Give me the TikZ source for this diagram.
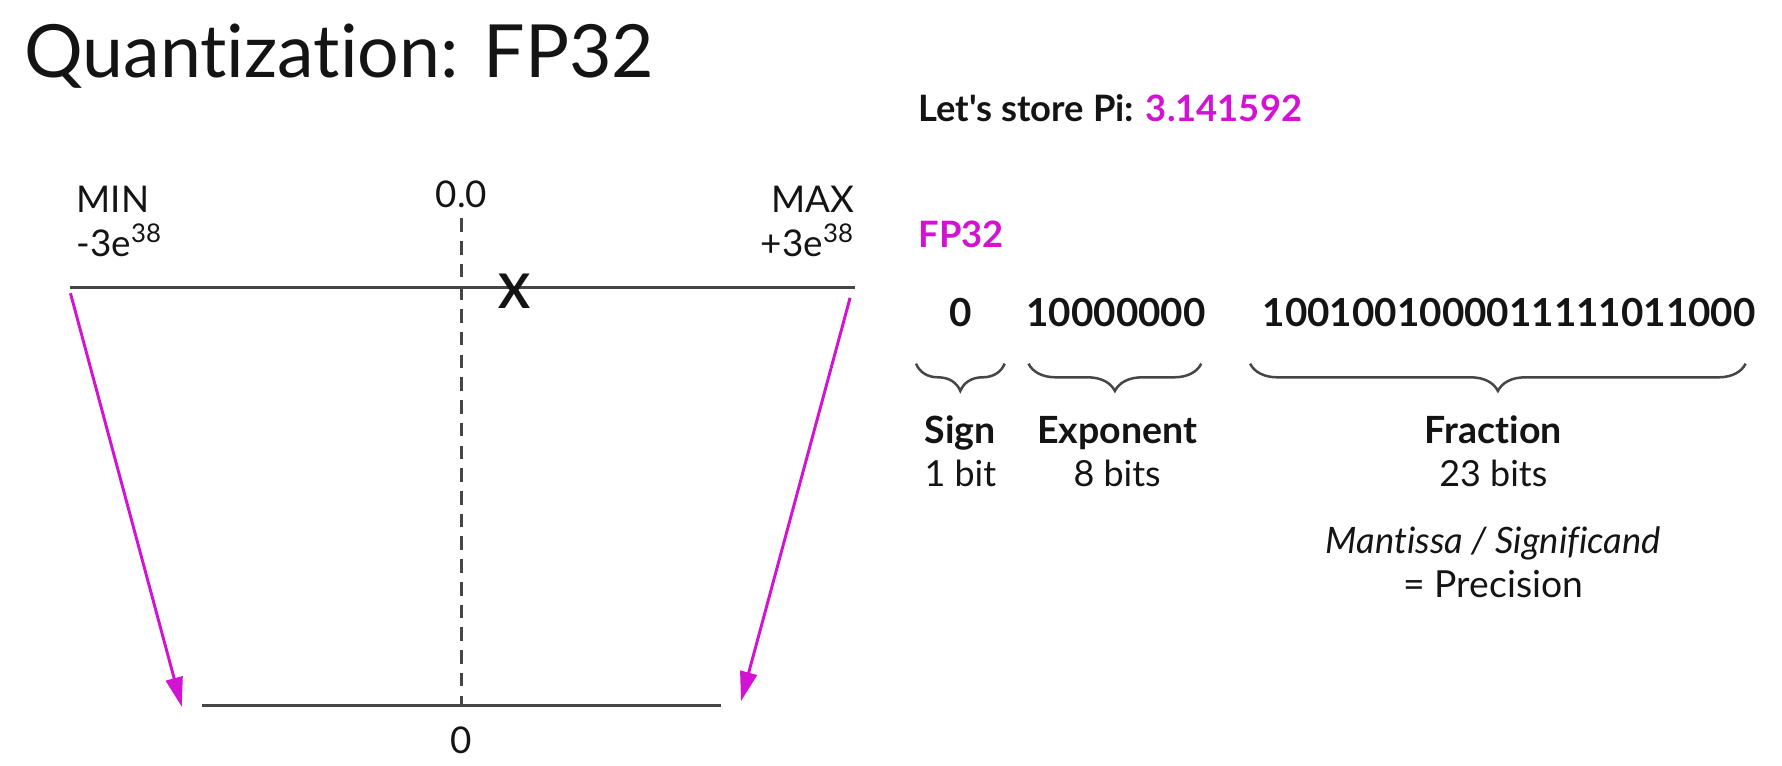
\documentclass[tikz,border=0pt]{standalone}
\usepackage{fontspec}
\setmainfont[Ligatures={NoCommon}]{Lato}
\newfontfamily\latoraw{Lato}
\usetikzlibrary{decorations.pathreplacing,arrows.meta}
\definecolor{mag}{RGB}{210,20,210}
\definecolor{ink}{RGB}{20,20,20}
\definecolor{linegray}{RGB}{70,70,70}
\tikzset{
  txt/.style={inner sep=0pt, text=ink},
  axlabel/.style={txt, font=\fontsize{16.2}{19}\selectfont},
  bitstyle/.style={txt, anchor=base, font=\fontsize{17}{20}\selectfont\bfseries},
  fieldname/.style={txt, anchor=base, font=\fontsize{16.5}{20}\selectfont\bfseries},
  fieldsize/.style={txt, anchor=base, font=\fontsize{15.8}{19}\selectfont},
  axisline/.style={draw=linegray, line width=1.5pt},
  dashline/.style={draw=linegray, line width=1pt, dash pattern=on 6pt off 4pt},
  magarrow/.style={draw=mag, line width=1.3pt, -{Triangle[length=13pt,width=7.5pt]}},
  bracestyle/.style={draw=linegray, line width=1.1pt, decorate, decoration={brace, mirror, amplitude=12pt}},
}
\begin{document}
\begin{tikzpicture}[x=0.5pt,y=-0.5pt]
\useasboundingbox (0,0) rectangle (1568,674);
% title
\node[txt, anchor=base west, font=\fontsize{32.3}{38}\selectfont] (title) at (21,68) {Quantization: FP32};
% right header
\node[txt, anchor=base west, font=\latoraw\fontsize{16}{19}\selectfont\bfseries] (pi) at (808,107) {Let's store Pi: \textcolor{mag}{3.141592}};
\node[txt, anchor=base west, font=\fontsize{16}{19}\selectfont\bfseries, text=mag] (fp) at (808,218) {FP32};
% number line
\coordinate (tl) at (62,253);
\coordinate (tr) at (752,253);
\coordinate (bl) at (178,621);
\coordinate (br) at (634,621);
\coordinate (dtop) at (406,192);
\coordinate (dbot) at (406,621);
\draw[dashline] (dtop) -- (dbot);
\draw[axisline] (tl) -- (tr);
\draw[axisline] (bl) -- (br);
\node[axlabel, anchor=base west] (min) at (67,187) {MIN};
\node[axlabel, anchor=base west] (minv) at (67,226) {-3e\textsuperscript{38}};
\node[axlabel, anchor=base east] (max) at (752,187) {MAX};
\node[axlabel, anchor=base east] (maxv) at (752,226) {+3e\textsuperscript{38}};
\node[axlabel, anchor=base] (zz) at (406,183) {0.0};
\node[axlabel, anchor=base] (z) at (406,663) {0};
\node[txt, anchor=center, font=\fontsize{21}{24}\selectfont\bfseries] (x) at (453,256) {X};
\coordinate (la) at (62,258);
\coordinate (lb) at (160,622);
\coordinate (ra) at (748,262);
\coordinate (rb) at (652,617);
\draw[magarrow] (la) -- (lb);
\draw[magarrow] (ra) -- (rb);
% bits
\node[bitstyle] (b0) at (845,287) {0};
\node[bitstyle] (b1) at (982,287) {10000000};
\node[bitstyle] (b2) at (1328,287) {1001001000011111011000};
% braces
\coordinate (s1) at (806,320); \coordinate (s2) at (884,320);
\coordinate (e1) at (905,320); \coordinate (e2) at (1057,320);
\coordinate (f1) at (1100,320); \coordinate (f2) at (1536,320);
\draw[bracestyle] (s1) -- (s2);
\draw[bracestyle] (e1) -- (e2);
\draw[bracestyle] (f1) -- (f2);
% labels
\node[fieldname] (sg) at (845,390) {Sign};
\node[fieldname] (ex) at (983,390) {Exponent};
\node[fieldname] (fr) at (1314,390) {Fraction};
\node[fieldsize] (sgb) at (845,428) {1 bit};
\node[fieldsize] (exb) at (983,428) {8 bits};
\node[fieldsize] (frb) at (1314,428) {23 bits};
\node[txt, anchor=base, font=\fontsize{16}{19}\selectfont\itshape] (man) at (1314,487) {Mantissa / Significand};
\node[txt, anchor=base, font=\fontsize{16.4}{19}\selectfont] (prec) at (1314,526) {= Precision};
\end{tikzpicture}
\end{document}
